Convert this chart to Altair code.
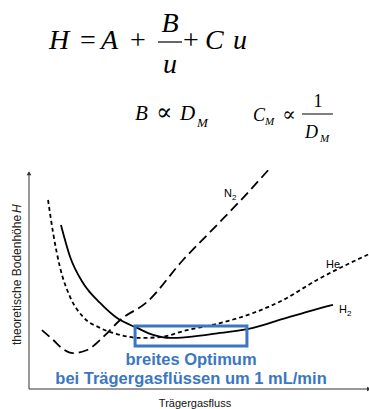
import altair as alt
import pandas as pd

# ---- curve data (flow in arbitrary units, plate height H in arbitrary units) ----
n2_flow = [0.38, 0.71, 1.00, 1.29, 1.71, 2.18, 2.68, 3.47, 4.53, 5.53, 6.29, 7.09]
n2_h    = [2.69, 2.24, 1.83, 1.64, 1.78, 2.37, 3.15, 3.97, 5.89, 7.49, 8.72, 10.09]

he_flow = [0.56, 0.71, 0.91, 1.21, 1.59, 2.09, 2.68, 3.26, 3.85, 4.65, 5.62, 6.59, 7.47, 8.47, 9.44, 10.0]
he_h    = [8.63, 7.12, 5.57, 4.20, 3.29, 2.79, 2.47, 2.33, 2.37, 2.69, 3.01, 3.47, 4.06, 4.98, 5.75, 6.16]

h2_flow = [0.94, 1.21, 1.59, 2.09, 2.59, 3.18, 3.65, 4.15, 4.65, 5.62, 6.59, 7.47, 8.26, 8.94]
h2_h    = [7.49, 6.03, 4.84, 3.93, 3.24, 2.79, 2.47, 2.33, 2.37, 2.56, 2.79, 3.20, 3.56, 3.84]

# optimum box (data units)
opt_flow = [3.12, 6.41]
opt_h = [1.96, 2.88]

X = alt.Scale(domain=[0, 10], range=[29, 369])
Y = alt.Scale(domain=[0, 10], range=[389, 170])

BLUE = "#3a76c2"


def curve(fx, hy, dash, width=1.8):
    df = pd.DataFrame({"flow": fx, "h": hy})
    kw = dict(color="black", strokeWidth=width, interpolate="monotone", clip=True)
    if dash:
        kw["strokeDash"] = dash
    return alt.Chart(df).mark_line(**kw).encode(
        x=alt.X("flow:Q", scale=X, axis=None),
        y=alt.Y("h:Q", scale=Y, axis=None),
    )


one = alt.Data(values=[{"a": 1}])


def txt(s, x, y, size, font="Liberation Serif, DejaVu Serif", style="italic",
        weight="normal", color="black", align="left", angle=0):
    return alt.Chart(one).mark_text(
        text=s, font=font, fontSize=size, fontStyle=style, fontWeight=weight,
        color=color, align=align, baseline="alphabetic", angle=angle,
    ).encode(x=alt.value(x), y=alt.value(y))


def bar(x1, x2, y, w=1.2):
    return alt.Chart(one).mark_rule(color="black", strokeWidth=w).encode(
        x=alt.value(x1), x2=alt.value(x2), y=alt.value(y))


layers = []

# axes
axdf = pd.DataFrame({"x0": [0], "x1": [10], "y0": [0], "y1": [9.9]})
layers.append(alt.Chart(axdf).mark_rule(color="#333", strokeWidth=1).encode(
    x=alt.X("x0:Q", scale=X, axis=None), y=alt.Y("y0:Q", scale=Y, axis=None), y2="y1:Q"))
layers.append(alt.Chart(axdf).mark_rule(color="#333", strokeWidth=1).encode(
    x=alt.X("x0:Q", scale=X, axis=None), x2="x1:Q", y=alt.Y("y0:Q", scale=Y, axis=None)))
arr = pd.DataFrame({"x": [0], "y": [9.85]})
layers.append(alt.Chart(arr).mark_point(shape="triangle-up", filled=True, color="#333", size=22, opacity=1).encode(
    x=alt.X("x:Q", scale=X, axis=None), y=alt.Y("y:Q", scale=Y, axis=None)))
arr2 = pd.DataFrame({"x": [10], "y": [0]})
layers.append(alt.Chart(arr2).mark_point(shape="triangle-right", filled=True, color="#333", size=22, opacity=1).encode(
    x=alt.X("x:Q", scale=X, axis=None), y=alt.Y("y:Q", scale=Y, axis=None)))

# curves
layers.append(curve(n2_flow, n2_h, [10, 5]))
layers.append(curve(he_flow, he_h, [4, 3]))
layers.append(curve(h2_flow, h2_h, None))

# optimum box
boxdf = pd.DataFrame({"x": [opt_flow[0]], "x2": [opt_flow[1]], "y": [opt_h[0]], "y2": [opt_h[1]]})
layers.append(alt.Chart(boxdf).mark_rect(fillOpacity=0, stroke=BLUE, strokeWidth=3).encode(
    x=alt.X("x:Q", scale=X, axis=None), x2="x2:Q",
    y=alt.Y("y:Q", scale=Y, axis=None), y2="y2:Q"))

# curve labels
SANS = "Liberation Sans, Arial"
layers += [
    txt("N", 224, 197, 11, font=SANS, style="normal"),
    txt("2", 232, 200, 8, font=SANS, style="normal"),
    txt("He", 326, 268, 11, font=SANS, style="normal"),
    txt("H", 339, 313, 11, font=SANS, style="normal"),
    txt("2", 347, 316, 8, font=SANS, style="normal"),
]

# blue annotation
layers += [
    txt("breites Optimum", 191, 365, 16.5, font=SANS, style="normal", weight="bold", color=BLUE, align="center"),
    txt("bei Trägergasflüssen um 1 mL/min", 191, 384, 16.5, font=SANS, style="normal", weight="bold", color=BLUE, align="center"),
]

# axis titles
layers += [
    txt("Trägergasfluss", 195, 407, 11, font=SANS, style="normal", color="#111", align="center"),
    txt("theoretische Bodenhöhe", 21, 345, 12, font=SANS, style="normal", color="#222", angle=270),
    txt("H", 21, 213, 12, font=SANS, style="italic", color="#222", angle=270),
]

# formula H = A + B/u + C u
F = 28
layers += [
    txt("H", 49, 49, F),
    txt("=", 88, 49, F, style="normal", align="center"),
    txt("A", 101, 49, F),
    txt("+", 138, 49, F, style="normal", align="center"),
    txt("B", 170, 32, F, align="center"),
    bar(158, 182, 42),
    txt("u", 170, 73, F, align="center"),
    txt("+", 191, 49, F, style="normal", align="center"),
    txt("C", 205, 49, F),
    txt("u", 233, 49, F),
]

# B ∝ D_M     C_M ∝ 1/D_M
layers += [
    txt("B", 135, 120, 21),
    txt("∝", 164, 120, 24, style="normal", align="center"),
    txt("D", 180, 120, 21),
    txt("M", 197, 127, 13),
    txt("C", 253, 121, 18),
    txt("M", 265, 125, 11),
    txt("∝", 289, 121, 20, style="normal", align="center"),
    txt("1", 318, 107, 18, style="normal", align="center"),
    bar(302, 333, 114, 1),
    txt("D", 305, 138, 18),
    txt("M", 320, 142, 11),
]

chart = alt.layer(*layers).properties(
    width=369, height=409, autosize=alt.AutoSizeParams(type="none"), padding=0,
    background="white",
).configure_view(stroke=None)

chart.save("out.html", embed_options={"renderer": "svg", "actions": False})
